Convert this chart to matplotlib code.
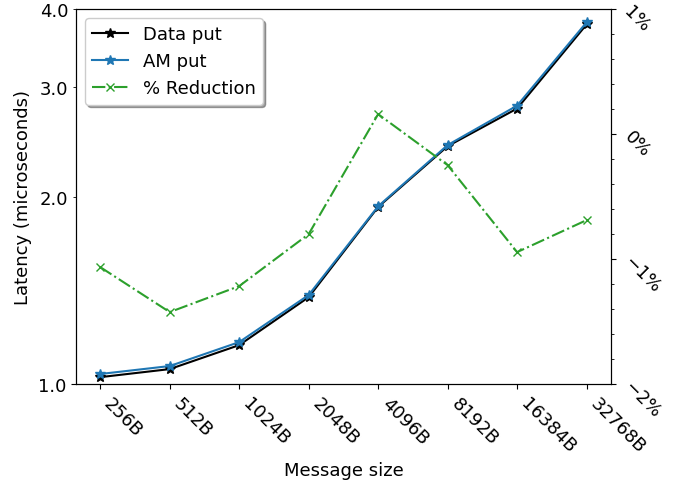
import matplotlib
matplotlib.use("Agg")
import matplotlib.pyplot as plt
from matplotlib.ticker import PercentFormatter, MultipleLocator, NullLocator, NullFormatter

sizes = ["256B", "512B", "1024B", "2048B", "4096B", "8192B", "16384B", "32768B"]
data_put = [1.026, 1.057, 1.155, 1.379, 1.925, 2.41, 2.77, 3.78]
am_put = [1.038, 1.069, 1.168, 1.390, 1.930, 2.42, 2.80, 3.81]
reduction = [-1.064, -1.424, -1.216, -0.80, 0.16, -0.248, -0.944, -0.688]

plt.rcParams['font.size'] = 13

fig, ax = plt.subplots(figsize=(6.78, 4.85), dpi=100)
fig.subplots_adjust(left=0.112, right=0.901, top=0.979, bottom=0.206)

x = list(range(len(sizes)))
l1, = ax.plot(x, data_put, color="black", marker="*", markersize=7, label="Data put")
l2, = ax.plot(x, am_put, color="tab:blue", marker="*", markersize=7, label="AM put")
ax.set_yscale("log")
ax.set_ylim(1.0, 4.0)
ax.yaxis.set_major_locator(NullLocator())
ax.yaxis.set_minor_locator(NullLocator())
ax.yaxis.set_minor_formatter(NullFormatter())
ax.set_yticks([1.0], labels=["1.0"])
ax.set_yticks([2.0, 3.0, 4.0], labels=["2.0", "3.0", "4.0"], minor=True)
ax.set_xticks(x, labels=sizes, rotation=-45, ha="left", rotation_mode="default")
ax.set_xlabel("Message size")
ax.set_ylabel("Latency (microseconds)")

ax2 = ax.twinx()
l3, = ax2.plot(x, reduction, color="tab:green", marker="x", linestyle="-.", label="% Reduction")
ax2.set_ylim(-2, 1)
ax2.yaxis.set_major_locator(MultipleLocator(1))
ax2.yaxis.set_minor_locator(MultipleLocator(0.2))
ax2.yaxis.set_major_formatter(PercentFormatter(decimals=0))
for lab in ax2.get_yticklabels():
    lab.set_rotation(-45)

ax.legend(handles=[l1, l2, l3], loc="upper left", shadow=True, framealpha=1)

fig.savefig("out.png")
